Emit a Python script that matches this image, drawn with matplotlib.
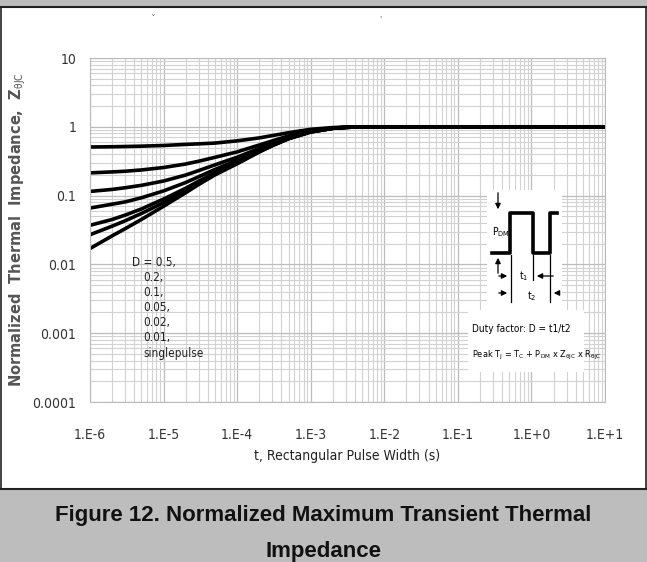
import numpy as np
import matplotlib.pyplot as plt
from matplotlib.patches import Rectangle, FancyArrowPatch
from matplotlib.lines import Line2D

# pulse width (s)
t = [1e-6, 2e-6, 3e-6, 5e-6, 1e-5, 2e-5, 3e-5, 5e-5, 1e-4, 2e-4, 3e-4, 5e-4,
     1e-3, 2e-3, 3e-3, 5e-3, 1e+1]

# normalized Z_thJC, one list per duty factor
z_d05 = [0.509, 0.513, 0.517, 0.523, 0.535, 0.555, 0.565, 0.58, 0.625, 0.69, 0.745, 0.82,
         0.92, 0.975, 0.99, 1.0, 1.0]
z_d02 = [0.214, 0.221, 0.226, 0.236, 0.256, 0.288, 0.316, 0.36, 0.432, 0.544, 0.624, 0.736,
         0.872, 0.96, 0.984, 1.0, 1.0]
z_d01 = [0.115, 0.123, 0.130, 0.141, 0.163, 0.199, 0.231, 0.28, 0.361, 0.487, 0.577, 0.703,
         0.856, 0.955, 0.982, 1.0, 1.0]
z_d005 = [0.066, 0.075, 0.081, 0.093, 0.117, 0.155, 0.188, 0.24, 0.326, 0.459, 0.554, 0.687,
          0.848, 0.953, 0.981, 1.0, 1.0]
z_d002 = [0.037, 0.045, 0.052, 0.064, 0.089, 0.128, 0.162, 0.215, 0.304, 0.441, 0.539, 0.677,
          0.843, 0.951, 0.98, 1.0, 1.0]
z_d001 = [0.027, 0.036, 0.043, 0.055, 0.079, 0.119, 0.154, 0.208, 0.297, 0.436, 0.535, 0.673,
          0.842, 0.95, 0.98, 1.0, 1.0]
z_single = [0.017, 0.026, 0.033, 0.045, 0.070, 0.11, 0.145, 0.20, 0.29, 0.43, 0.53, 0.67,
            0.84, 0.95, 0.98, 1.0, 1.0]

curves = [z_d05, z_d02, z_d01, z_d005, z_d002, z_d001, z_single]
legend_lines = ['D = 0.5,', '0.2,', '0.1,', '0.05,', '0.02,', '0.01,', 'singlepulse']

x_ticks = [1e-6, 1e-5, 1e-4, 1e-3, 1e-2, 1e-1, 1e0, 1e1]
x_labels = ['1.E-6', '1.E-5', '1.E-4', '1.E-3', '1.E-2', '1.E-1', '1.E+0', '1.E+1']
y_ticks = [1e-4, 1e-3, 1e-2, 1e-1, 1, 10]
y_labels = ['0.0001', '0.001', '0.01', '0.1', '1', '10']

W, H = 647, 562
AX_L, AX_T, AX_R, AX_B = 90, 58, 605, 402
narrow = dict(family='DejaVu Sans', stretch='condensed')

plt.rcParams['mathtext.fontset'] = 'custom'
plt.rcParams['mathtext.rm'] = 'DejaVu Sans:stretch=condensed'
plt.rcParams['mathtext.it'] = 'DejaVu Sans:stretch=condensed'
plt.rcParams['mathtext.bf'] = 'DejaVu Sans:bold'

fig = plt.figure(figsize=(W / 100, H / 100), dpi=100)

def px_box(x0, y0, x1, y1):
    # pixel box (top-left origin) -> figure fraction rect
    return (x0 / W, 1 - y1 / H, (x1 - x0) / W, (y1 - y0) / H)

# frame: gray bands top and bottom, dark border lines
fig.patches.append(Rectangle((0, 1 - 6 / H), 1, 6 / H, transform=fig.transFigure,
                             facecolor='#bdbdbd', edgecolor='none'))
fig.patches.append(Rectangle((0, 0), 1, (H - 489) / H, transform=fig.transFigure,
                             facecolor='#bdbdbd', edgecolor='none'))
for yy in [1 - 6.5 / H, (H - 489) / H]:
    fig.add_artist(Line2D([0, 1], [yy, yy], transform=fig.transFigure, color='#222222', lw=1.5))
for xx in [0.8 / W, 1 - 0.8 / W]:
    fig.add_artist(Line2D([xx, xx], [(H - 489) / H, 1 - 6.5 / H], transform=fig.transFigure,
                          color='#222222', lw=1.2))

ax = fig.add_axes(px_box(AX_L, AX_T, AX_R, AX_B))
ax.set_xscale('log')
ax.set_yscale('log')
ax.set_xlim(1e-6, 1e1)
ax.set_ylim(1e-4, 1e1)

ax.grid(which='major', color='#bcbcbc', lw=0.9)
ax.grid(which='minor', color='#d2d2d2', lw=0.8)
ax.set_axisbelow(True)
for s in ax.spines.values():
    s.set_color('#bcbcbc')

for z in curves:
    ax.plot(t, z, color='black', lw=2.6, solid_capstyle='round', solid_joinstyle='round')

ax.set_xticks(x_ticks)
ax.set_xticklabels(x_labels, fontsize=10, color='#333333', **narrow)
ax.set_yticks(y_ticks)
ax.set_yticklabels(y_labels, fontsize=10, color='#333333', **narrow)
ax.tick_params(which='both', length=0)
ax.tick_params(axis='x', pad=19)
ax.tick_params(axis='y', pad=10)

ax.set_xlabel('t, Rectangular Pulse Width (s)', fontsize=10,
              color='#222222', labelpad=5, **narrow)

fig.text(18 / W, 1 - 230 / H, r'Normalized  Thermal  Impedance,  Z$_{\theta JC}$',
         rotation=90, ha='center', va='center', fontsize=10.5, fontweight='bold',
         color='#555555')

# pixel -> axes fraction helpers
def afx(x):
    return (x - AX_L) / float(AX_R - AX_L)

def afy(y):
    return 1 - (y - AX_T) / float(AX_B - AX_T)

ta = ax.transAxes

# duty factor list
for i, s in enumerate(legend_lines):
    ypx = 262 + i * 15.2
    ax.text(afx(132) if i == 0 else afx(143), afy(ypx), s, transform=ta, fontsize=8.5,
            color='#222222', va='center', ha='left', **narrow)

# inset diagram on white boxes
ax.add_patch(Rectangle((afx(487), afy(312)), afx(562) - afx(487), afy(190) - afy(312),
                       transform=ta, facecolor='white', edgecolor='none', zorder=3))
ax.add_patch(Rectangle((afx(468), afy(372)), afx(584) - afx(468), afy(310) - afy(372),
                       transform=ta, facecolor='white', edgecolor='none', zorder=3))

px_x = [492, 510, 510, 533, 533, 550, 550, 557]
px_y = [253, 253, 213, 213, 253, 253, 213, 213]
ax.plot([afx(v) for v in px_x], [afy(v) for v in px_y], transform=ta, color='black',
        lw=2.6, zorder=4, clip_on=False)

def arrow(xa, ya, xb, yb):
    ax.add_patch(FancyArrowPatch((afx(xa), afy(ya)), (afx(xb), afy(yb)), transform=ta,
                                 arrowstyle='-|>', mutation_scale=8, color='black',
                                 lw=0.9, zorder=5))

def vline(x, ya, yb):
    ax.plot([afx(x), afx(x)], [afy(ya), afy(yb)], transform=ta, color='black', lw=0.9, zorder=5)

arrow(498, 190, 498, 212)
arrow(498, 276, 498, 255)
arrow(496, 276, 510, 276)
arrow(556, 276, 534, 276)
arrow(496, 293, 510, 293)
arrow(562, 293, 551, 293)
vline(511, 255, 302)
vline(533, 255, 280)
vline(550, 255, 302)

ax.text(afx(492), afy(232), r'P$_{\rm DM}$', transform=ta, fontsize=7.5,
        va='center', ha='left', zorder=6, **narrow)
ax.text(afx(519), afy(276), r't$_1$', transform=ta, fontsize=7.5,
        va='center', ha='left', zorder=6, **narrow)
ax.text(afx(527), afy(296), r't$_2$', transform=ta, fontsize=7.5,
        va='center', ha='left', zorder=6, **narrow)
ax.text(afx(472), afy(329), 'Duty factor: D = t1/t2', transform=ta,
        fontsize=7.2, va='center', ha='left', zorder=6, **narrow)
ax.text(afx(472), afy(355),
        r'Peak T$_{\rm J}$ = T$_{\rm C}$ + P$_{\rm DM}$ x Z$_{\theta\rm JC}$ x R$_{\theta\rm JC}$',
        transform=ta, fontsize=6.6, va='center', ha='left', zorder=6, **narrow)

# small stray marks at the top of the page
fig.text(153 / W, 1 - 20 / H, 'ˇ', fontsize=7, color='#777777', ha='center', va='center')
fig.text(380 / W, 1 - 20 / H, "'", fontsize=6, color='#777777', ha='center', va='center')

# caption
fig.text(0.5, 1 - 515 / H, 'Figure 12. Normalized Maximum Transient Thermal',
         ha='center', va='center', fontsize=16, fontweight='bold',
         family=['Liberation Sans', 'DejaVu Sans'], color='#111111')
fig.text(0.5, 1 - 552 / H, 'Impedance', ha='center', va='center', fontsize=16,
         fontweight='bold', family=['Liberation Sans', 'DejaVu Sans'], color='#111111')

fig.savefig('out.png', dpi=100, facecolor='white')
